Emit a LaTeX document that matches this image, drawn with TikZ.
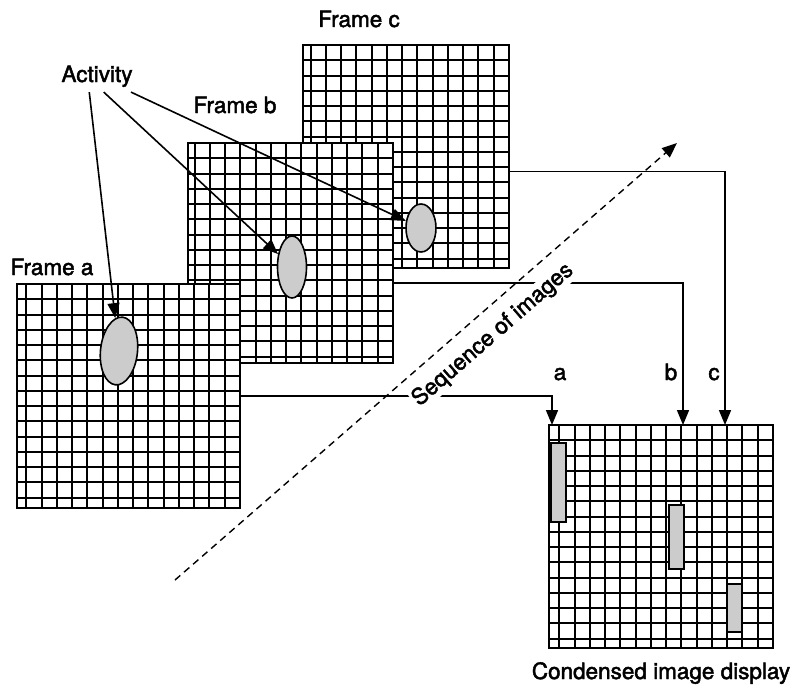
\documentclass[tikz,border=0pt]{standalone}
\usepackage{fontspec}
\newfontfamily\labelfont{TeX Gyre Heros}[FakeBold=2]
\usetikzlibrary{arrows.meta,calc,shapes.geometric}

% one image frame: name, x, y (top left), width, height
\newcommand{\gridframe}[5]{%
  \node[frame box,minimum width=#4pt,minimum height=#5pt](#1) at (#2,#3) {};
  \begin{scope}
    \clip (#1.south west) rectangle (#1.north east);
    \foreach \k in {1,...,15}{
      \pgfmathsetmacro\off{round(\k*15.25)}
      \draw[grid line] ($(#1.north east)+(-\off,0)$) -- ++(0,-#5);
      \draw[grid line] ($(#1.north east)+(0,-\off)$) -- ++(-#4,0);
    }
  \end{scope}
  \draw[line width=2.6pt] (#1.south west) rectangle (#1.north east);
}

\begin{document}
\begin{tikzpicture}[x=1pt,y=1pt,>={Triangle[length=15pt,width=12pt]},
  frame box/.style={draw,line width=2.6pt,fill=white,inner sep=0pt,outer sep=0pt,anchor=north west},
  grid line/.style={line width=2pt},
  blob/.style={ellipse,draw,line width=1.6pt,fill=gray!40,inner sep=0pt},
  bar/.style={draw,line width=1.6pt,fill=gray!40,inner sep=0pt,anchor=north west},
  txt/.style={font=\labelfont\fontsize{22.5}{26}\selectfont,anchor=base},
  link/.style={->,line width=1.6pt}]

\useasboundingbox (0,0) rectangle (795,-688);

% frames, back to front
\gridframe{fc}{303}{-45}{206}{223}
\gridframe{fb}{188}{-143}{205}{220}
\gridframe{fa}{17}{-284}{223}{224}
\gridframe{cond}{549}{-425}{224}{223}

% activity
\node[blob,minimum width=30pt,minimum height=48pt](ec) at (421,-228) {};
\node[blob,minimum width=29pt,minimum height=62pt](eb) at (292,-267) {};
\node[blob,minimum width=37pt,minimum height=68pt,rotate=-6](ea) at (119,-351) {};

\node[bar,minimum width=15pt,minimum height=79pt](ba) at (550,-442) {};
\node[bar,minimum width=15pt,minimum height=64pt](bb) at (668,-504) {};
\node[bar,minimum width=15pt,minimum height=48pt](bc) at (726,-583) {};

% labels
\node[txt](tc) at (359,-27) {Frame c};
\node[txt](tb) at (235,-113) {Frame b};
\node[txt](ta) at (52,-275) {Frame a};
\node[txt,inner sep=5pt](act) at (97,-82) {Activity};
\node[txt](la) at (560,-380) {a};
\node[txt](lb) at (671,-380) {b};
\node[txt](lc) at (714,-380) {c};
\node[txt](cap) at (661,-679) {Condensed image display};

\draw[link] (act.-116) -- (ea);
\draw[link] (act.-67) -- (eb);
\draw[link] (act.-25) -- (ec);

\coordinate (ina) at ($(cond.north west)+(3,0)$);
\coordinate (inb) at ($(cond.north west)+(134,0)$);
\coordinate (inc) at ($(cond.north west)+(176,0)$);
\draw[link] (fa.east) -| (ina);
\draw[link] ($(fb.east)+(0,-30)$) -| (inb);
\draw[link] ($(fc.east)+(0,-15)$) -| (inc);

% time axis
\coordinate (seqlo) at (175,-580);
\coordinate (seqhi) at (677,-143);
\draw[->,line width=1.4pt,dash pattern=on 7pt off 5pt] (seqlo) -- (seqhi);
\node[txt,anchor=center,fill=white,inner sep=1pt,rotate=41](seq) at (493,-335) {Sequence of images};

\end{tikzpicture}
\end{document}
